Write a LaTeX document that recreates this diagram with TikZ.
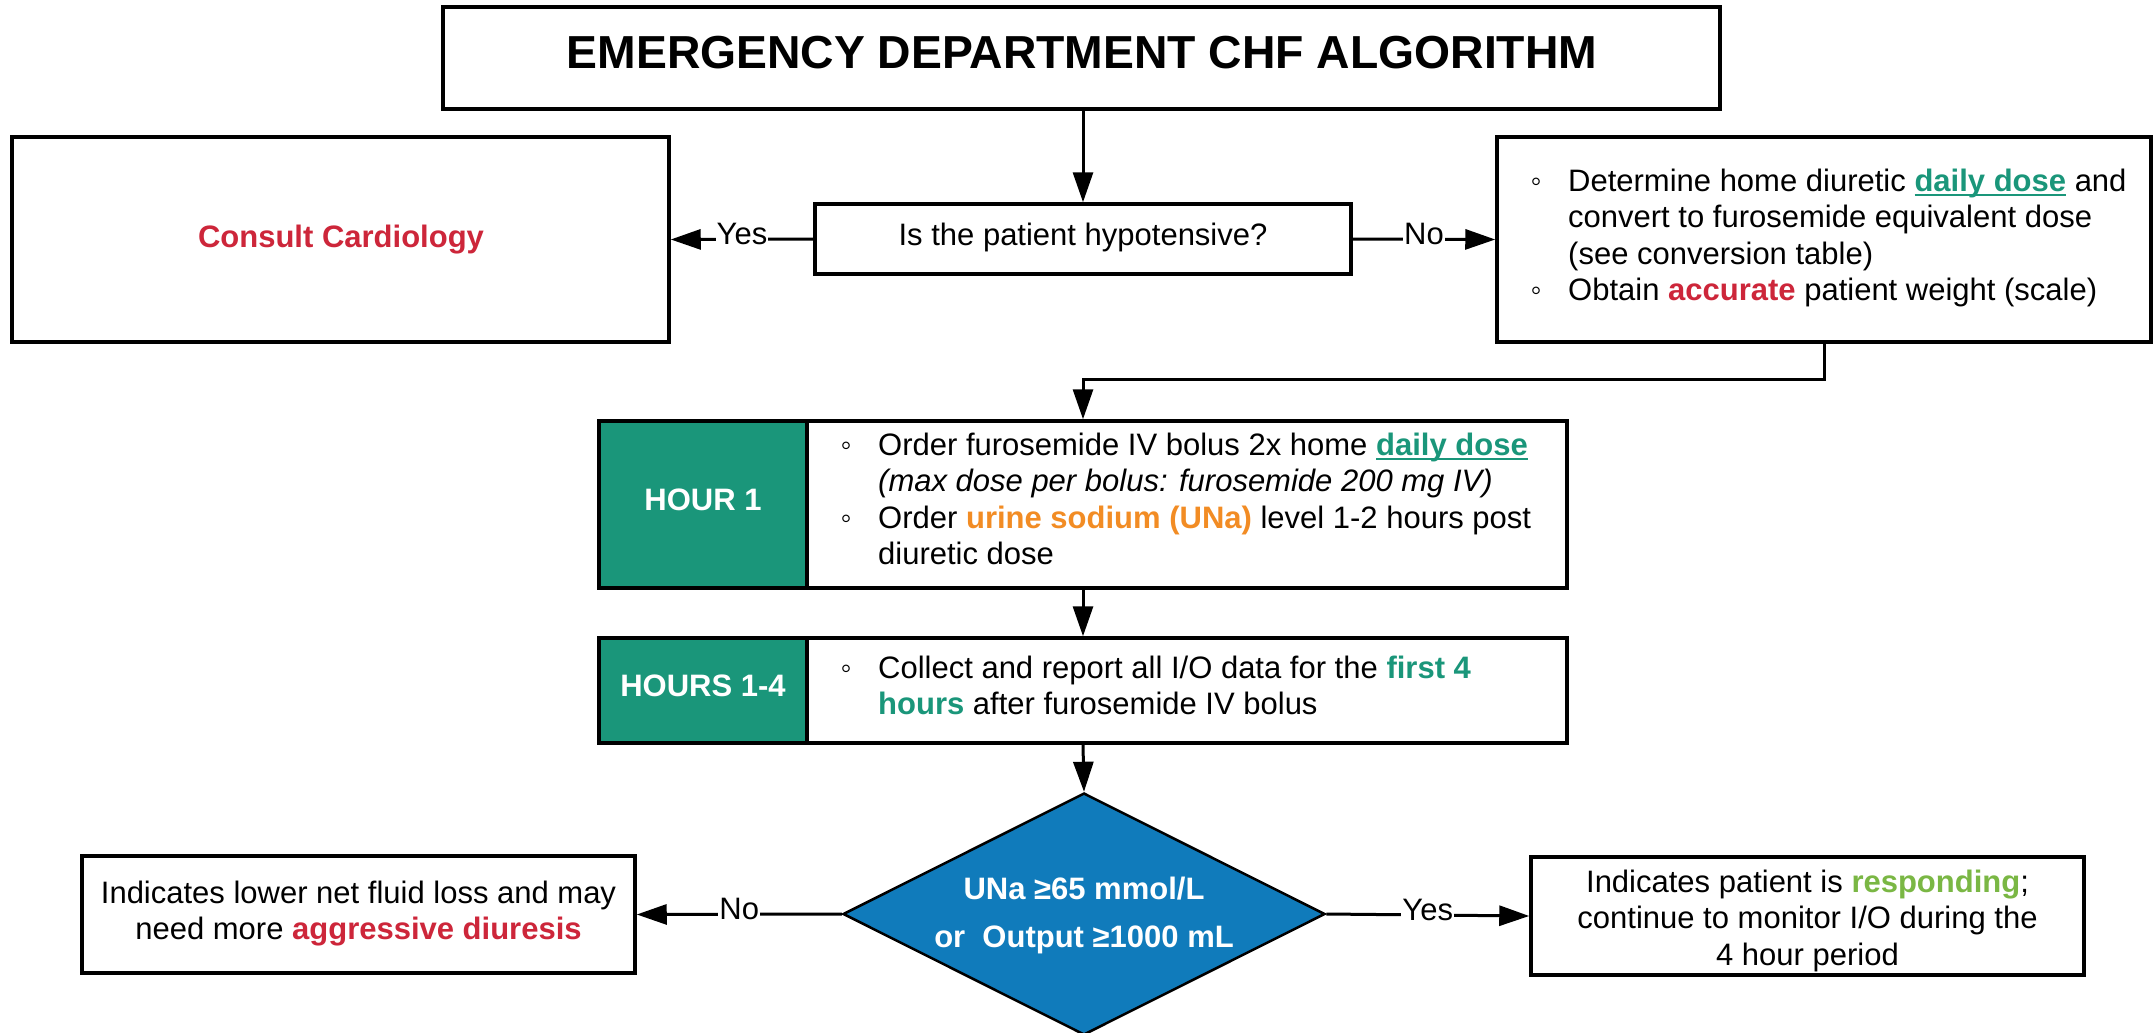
\documentclass[tikz,border=0pt]{standalone}
\usepackage{fontspec}
\setmainfont{Liberation Sans}
\usetikzlibrary{arrows.meta,shapes.geometric}

\definecolor{chfteal}{RGB}{26,150,122}
\definecolor{chfred}{RGB}{205,38,58}
\definecolor{chforange}{RGB}{242,140,36}
\definecolor{chfgreen}{RGB}{122,183,68}
\definecolor{chfblue}{RGB}{16,123,187}

% underlined run of text with a rule just below the baseline
\newcommand\underrule[1]{\setbox0=\hbox{#1}\rlap{\rule[-5pt]{\wd0}{2.5pt}}\box0}
% hollow bullet and hanging indent for list lines
\newcommand\bul{\makebox[0pt][c]{◦}\hspace{32pt}}
\newcommand\ind{\hspace*{32pt}}

\begin{document}
\begin{tikzpicture}[x=1pt,y=-1pt,
  box/.style={draw=black, line width=3.5pt, fill=white, inner sep=0pt},
  conn/.style={draw=black, line width=3pt, -{Triangle[length=30pt,width=20pt]}},
  lbl/.style={fill=white, inner sep=1pt, yshift=5pt, font=\fontsize{31}{36}\selectfont},
  txt/.style={inner sep=0pt, font=\fontsize{31}{36.5}\selectfont},
  tag/.style={anchor=base, inner sep=0pt, text=white, font=\bfseries\fontsize{31}{36}\selectfont},
]
\fill[white] (0,0) rectangle (2153,1033);
\useasboundingbox (0,0) rectangle (2153,1033);

% boxes
\node[box, minimum width=1277pt, minimum height=102pt] (title) at (1081.5,58) {};
\node[box, minimum width=536pt, minimum height=70pt] (question) at (1083,239) {};
\node[box, minimum width=657pt, minimum height=205pt] (consult) at (340.5,239.5) {};
\node[box, minimum width=654pt, minimum height=205pt] (prep) at (1824,239.5) {};
\node[box, minimum width=968pt, minimum height=167pt] (hour1) at (1083,504.5) {};
\node[box, fill=chfteal, minimum width=208pt, minimum height=167pt] (hour1tag) at (703,504.5) {};
\node[box, minimum width=968pt, minimum height=105pt] (hours) at (1083,690.5) {};
\node[box, fill=chfteal, minimum width=208pt, minimum height=105pt] (hourstag) at (703,690.5) {};
\node[draw=black, line width=2.5pt, fill=chfblue, shape=diamond, inner sep=0pt,
      minimum width=482pt, minimum height=242pt] (check) at (1084,914) {};
\node[box, minimum width=553pt, minimum height=117pt] (lowres) at (358.5,914.5) {};
\node[box, minimum width=553pt, minimum height=118pt] (goodres) at (1807.5,916) {};

% connectors
\coordinate (turn) at ([yshift=40pt]hour1.north);
\draw[conn] (question.north |- title.south) -- (question.north);
\draw[conn] (question.west) -- node[lbl] (yes1) {Yes} (consult.east);
\draw[conn] (question.east) -- node[lbl] (no1) {No} (prep.west);
\draw[conn] (prep.south) |- (turn) -- (hour1.north);
\draw[conn] (hour1.south) -- (hours.north);
\draw[conn] (hours.south) -- (check.north);
\draw[conn] (check.west) -- node[lbl] (no2) {No} (lowres.east);
\draw[conn] (check.east) -- node[lbl] (yes2) {Yes} (goodres.west);

% texts
\node[anchor=base, inner sep=0pt, font=\bfseries\fontsize{46.3}{52}\selectfont] (titletext) at (1082,69)
  {EMERGENCY DEPARTMENT CHF ALGORITHM};
\node[txt, anchor=base] (questiontext) at (1083,245) {Is the patient hypotensive?};
\node[txt, anchor=base, text=chfred, font=\bfseries\fontsize{31}{36}\selectfont] (consulttext) at (341,247)
  {Consult Cardiology};
\node[txt, anchor=base west] (preptext) at (1536,191) {\begin{tabular}[t]{@{}l@{}}
\bul Determine home diuretic \textcolor{chfteal}{\bfseries\underrule{daily dose}} and\\
\ind convert to furosemide equivalent dose\\
\ind (see conversion table)\\
\bul Obtain \textcolor{chfred}{\bfseries accurate} patient weight (scale)
\end{tabular}};
\node[tag] (hour1lbl) at (703,510) {HOUR 1};
\node[txt, anchor=base west] (hour1text) at (846,455) {\begin{tabular}[t]{@{}l@{}}
\bul Order furosemide IV bolus 2x home \textcolor{chfteal}{\bfseries\underrule{daily dose}}\\
\ind\textit{(max dose per bolus: furosemide 200 mg IV)}\\
\bul Order \textcolor{chforange}{\bfseries urine sodium (UNa)} level 1-2 hours post\\
\ind diuretic dose
\end{tabular}};
\node[tag] (hourslbl) at (703,696) {HOURS 1-4};
\node[txt, anchor=base west] (hourstext) at (846,678) {\begin{tabular}[t]{@{}l@{}}
\bul Collect and report all I/O data for the \textcolor{chfteal}{\bfseries first 4}\\
\ind\textcolor{chfteal}{\bfseries hours} after furosemide IV bolus
\end{tabular}};
\node[anchor=base, inner sep=0pt, text=white, font=\bfseries\fontsize{31}{48}\selectfont] (checktext) at (1084,899)
  {\begin{tabular}[t]{@{}c@{}}UNa ≥65 mmol/L\\or\ \ Output ≥1000 mL\end{tabular}};
\node[txt, anchor=base] (lowtext) at (358.5,903) {\begin{tabular}[t]{@{}c@{}}
Indicates lower net fluid loss and may\\
need more \textcolor{chfred}{\bfseries aggressive diuresis}
\end{tabular}};
\node[txt, anchor=base] (goodtext) at (1807.5,892) {\begin{tabular}[t]{@{}c@{}}
Indicates patient is \textcolor{chfgreen}{\bfseries responding};\\
continue to monitor I/O during the\\
4 hour period
\end{tabular}};
\end{tikzpicture}
\end{document}
